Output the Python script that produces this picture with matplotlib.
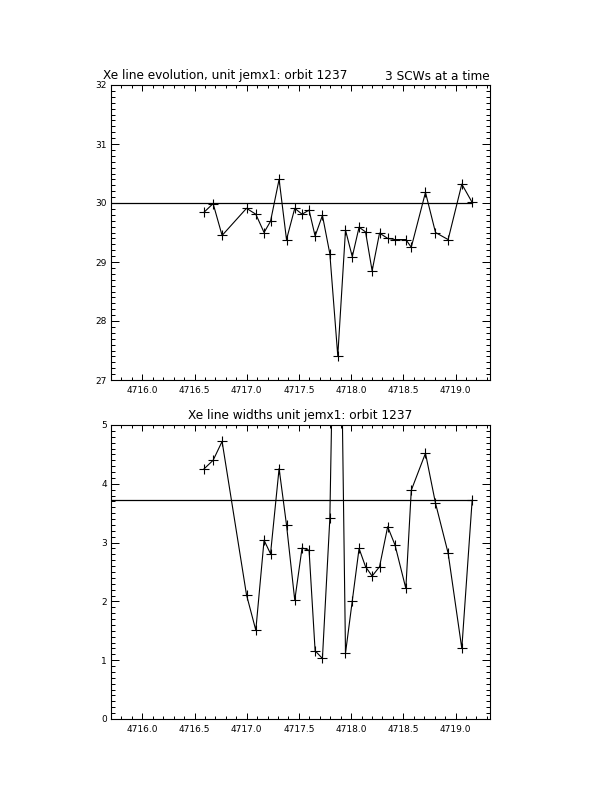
import matplotlib
matplotlib.use("Agg")
import matplotlib.pyplot as plt
from matplotlib.ticker import MultipleLocator, FormatStrFormatter

# ---- data ----
time = [4716.589, 4716.678, 4716.764, 4716.998, 4717.087, 4717.166, 4717.228,
        4717.310, 4717.381, 4717.460, 4717.530, 4717.597, 4717.655, 4717.725,
        4717.796, 4717.872, 4717.946, 4718.011, 4718.076, 4718.138, 4718.201,
        4718.272, 4718.350, 4718.420, 4718.524, 4718.576, 4718.712, 4718.808,
        4718.929, 4719.060, 4719.159]
energy = [29.84, 29.99, 29.45, 29.91, 29.81, 29.50, 29.69, 30.40, 29.38, 29.91,
          29.81, 29.88, 29.44, 29.79, 29.14, 27.41, 29.54, 29.09, 29.59, 29.51,
          28.85, 29.49, 29.40, 29.38, 29.38, 29.25, 30.18, 29.50, 29.38, 30.32,
          30.01]
width = [4.25, 4.40, 4.72, 2.11, 1.51, 3.04, 2.81, 4.26, 3.30, 2.02, 2.91, 2.87,
         1.16, 1.03, 3.41, 11.0, 1.12, 2.01, 2.90, 2.59, 2.43, 2.59, 3.27, 2.96,
         2.22, 3.89, 4.52, 3.67, 2.82, 1.20, 3.72]
energy_ref = 30.0
width_ref = 3.72

title_top = "Xe line evolution, unit jemx1: orbit 1237"
title_top_right = "3 SCWs at a time"
title_bot = "Xe line widths unit jemx1: orbit 1237"

xlim = (4715.70, 4719.33)

W, H = 612, 792
fig = plt.figure(figsize=(W / 100, H / 100), dpi=100)


def px_axes(l, t, r, b):
    return fig.add_axes([l / W, 1 - b / H, (r - l) / W, (b - t) / H])


def style(ax, ylim):
    ax.set_xlim(*xlim)
    ax.set_ylim(*ylim)
    ax.xaxis.set_major_locator(MultipleLocator(0.5))
    ax.xaxis.set_minor_locator(MultipleLocator(0.1))
    ax.yaxis.set_major_locator(MultipleLocator(1))
    ax.yaxis.set_minor_locator(MultipleLocator(0.1))
    ax.xaxis.set_major_formatter(FormatStrFormatter("%.1f"))
    ax.yaxis.set_major_formatter(FormatStrFormatter("%d"))
    ax.tick_params(axis="both", which="both", direction="in",
                   top=True, right=True, width=0.72, colors="black",
                   labelsize=6.5)
    ax.tick_params(axis="x", which="major", length=4.3, pad=4)
    ax.tick_params(axis="x", which="minor", length=2.2)
    ax.tick_params(axis="y", which="major", length=5.6, pad=3)
    ax.tick_params(axis="y", which="minor", length=2.8)
    for s in ax.spines.values():
        s.set_linewidth(0.8)


ax1 = px_axes(111, 85, 490, 380)
style(ax1, (27, 32))
ax1.plot(time, energy, color="black", lw=0.8, marker="+", ms=6.5, mew=0.8)
ax1.plot([xlim[0], time[-1]], [energy_ref, energy_ref], color="black", lw=0.9)

ax2 = px_axes(111, 425, 490, 719)
style(ax2, (0, 5))
ax2.plot(time, width, color="black", lw=0.8, marker="+", ms=6.5, mew=0.8)
ax2.plot([xlim[0], time[-1]], [width_ref, width_ref], color="black", lw=0.9)

fs = 8.7
fig.text(103 / W, 1 - 76 / H, title_top, ha="left", va="center", fontsize=fs)
fig.text(490 / W, 1 - 76 / H, title_top_right, ha="right", va="center", fontsize=fs)
fig.text(300.5 / W, 1 - 415 / H, title_bot, ha="center", va="center", fontsize=fs)

fig.savefig("out.png", dpi=100, facecolor="white")
